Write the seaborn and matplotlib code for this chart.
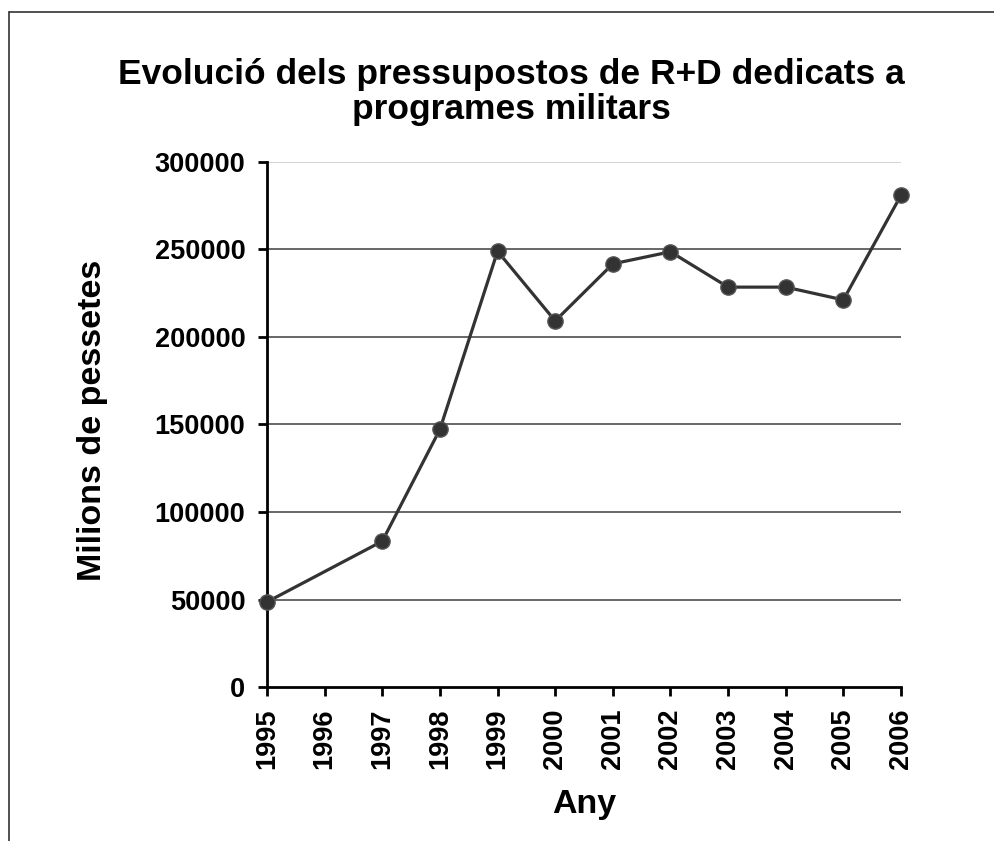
import numpy as np
import pandas as pd
import seaborn as sns
import matplotlib
matplotlib.use("Agg")
from matplotlib import pyplot as plt
from matplotlib.lines import Line2D

# data (1996 has no value)
years = [1995, 1997, 1998, 1999, 2000, 2001, 2002, 2003, 2004, 2005, 2006]
budget = [48600, 83300, 147200, 249000, 209200, 241800, 248700, 228500, 228500, 221200, 281000]
tick_years = list(range(1995, 2007))
y_ticks = [0, 50000, 100000, 150000, 200000, 250000, 300000]

df = pd.DataFrame({"Any": years, "Milions": budget})

sns.set_style("white")
plt.rcParams['font.family'] = ['Liberation Sans', 'DejaVu Sans']
plt.rcParams['font.weight'] = 'bold'
plt.rcParams['text.color'] = 'black'

fig = plt.figure(figsize=(9.94, 8.41), dpi=100)
ax = fig.add_axes([267/994, 1 - 687/841, 634/994, 525/841])

sns.lineplot(data=df, x="Any", y="Milions", ax=ax, color="#333333",
             linewidth=2.3, marker="o", markersize=11,
             markerfacecolor="#333333", markeredgecolor="#555555",
             markeredgewidth=1, clip_on=False, zorder=5)

ax.set_xlim(1995, 2006)
ax.set_ylim(0, 300000)
ax.set_xticks(tick_years)
ax.set_xticklabels([str(y) for y in tick_years], rotation=90,
                   fontsize=19.5, fontweight='bold')
ax.set_yticks(y_ticks)
ax.set_yticklabels([str(v) for v in y_ticks], fontsize=19.5, fontweight='bold')

ax.yaxis.grid(True, color="#4d4d4d", linewidth=1.2)
ax.xaxis.grid(False)
ax.yaxis.get_gridlines()[-1].set_color("#cccccc")
ax.yaxis.get_gridlines()[0].set_visible(False)

for side in ["top", "right"]:
    ax.spines[side].set_visible(False)
for side in ["left", "bottom"]:
    ax.spines[side].set_color("black")
    ax.spines[side].set_linewidth(2)

ax.tick_params(axis="both", which="major", direction="out", length=6.5,
               width=2, color="black", labelcolor="black")
ax.tick_params(axis="x", pad=9, bottom=True)
ax.tick_params(axis="y", pad=9, left=True)

ax.set_xlabel("")
ax.set_ylabel("")

fig.text(511/994, 1 - 92/841,
         "Evolució dels pressupostos de R+D dedicats a\nprogrames militars",
         ha="center", va="center", fontsize=25.5, fontweight="bold",
         linespacing=1.1, color="black")
fig.text(93/994, 1 - 420/841, "Milions de pessetes", rotation=90,
         ha="center", va="center", fontsize=24.5, fontweight="bold",
         color="black")
fig.text(584/994, 1 - 805/841, "Any", ha="center", va="center",
         fontsize=24.5, fontweight="bold", color="black")

# outer chart frame (only left and top edges visible)
fig.add_artist(Line2D([9/994, 9/994], [0, 1 - 12/841], color="#333333",
                      linewidth=1.2, transform=fig.transFigure))
fig.add_artist(Line2D([9/994, 1], [1 - 12/841, 1 - 12/841], color="#333333",
                      linewidth=1.2, transform=fig.transFigure))

fig.savefig("out.png", dpi=100)
